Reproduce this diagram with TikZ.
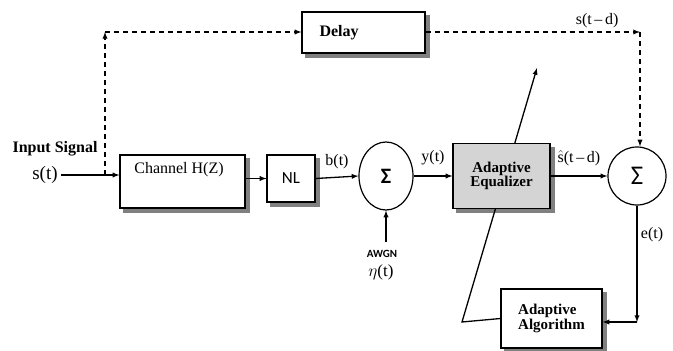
\documentclass[tikz,border=0pt]{standalone}
\usepackage{amssymb,amsmath}
\usepackage{fontspec}
\setmainfont{Liberation Serif}
\newfontfamily\calfont{Carlito}
\usetikzlibrary{%
  arrows,%
  calc,%
  backgrounds,%
  shapes.geometric%
}
\tikzset{>=latex}
\tikzset{blockbox/.style = {draw, line width=1.2pt, fill=white},
        boxshadow/.style = {fill=black!50},
        sumnode/.style = {draw, line width=1.2pt, ellipse, fill=white,
          inner sep=0pt},
        wire/.style = {line width=1.3pt},
        dashline/.style = {line width=1.3pt, dash pattern=on 5pt off 4pt},
        sigtext/.style = {font=\fontsize{16}{18}\selectfont}}

\begin{document}
\begin{tikzpicture}[x=1pt,y=1pt]
        \useasboundingbox (0,0) rectangle (673,-351);
        % blocks
        \node[blockbox, minimum width=123pt, minimum height=41pt,
        text width=100pt, align=left] (delay) at (363.5,-32.5)
        {\hspace*{6pt}\fontsize{16}{18}\selectfont\bfseries Delay};
        \node[blockbox, minimum width=125pt, minimum height=53pt] (chan) at
        (182.5,-181.5) {};
        \node[sigtext] (chanlabel) at (179,-170) {Channel H(Z)};
        \node[blockbox, minimum width=48pt, minimum height=47pt] (nl) at
        (291,-178.5) {\calfont\fontsize{17}{19}\selectfont NL};
        \node[sumnode, minimum width=54pt, minimum height=68pt] (sumA) at
        (386,-176) {\calfont\bfseries\fontsize{22}{24}\selectfont Σ};
        \node[blockbox, minimum width=101pt, minimum height=59pt,
        align=left] (alg) at (551.5,-318.5)
        {\fontsize{15}{22}\selectfont\bfseries Adaptive\\
          \fontsize{15}{22}\selectfont\bfseries Algorithm};
        % feedback line behind the equalizer
        \coordinate (fbA) at (462,-322);
        \coordinate (fbB) at (537,-68);
        \draw[wire,->] (alg.west) -- (fbA) -- (fbB);
        \node[blockbox, fill=black!17, minimum width=97pt, minimum height=65pt,
        align=center] (eq) at (501.5,-176)
        {\fontsize{15}{22}\selectfont\bfseries Adaptive\\
          \fontsize{15}{22}\selectfont\bfseries Equalizer};
        \node[sumnode, circle, minimum size=58pt] (sumB) at (637,-176)
        {\calfont\fontsize{27}{29}\selectfont Σ};
        % shadows
        \begin{scope}[on background layer]
          \foreach \b in {delay,chan,nl,eq,alg}
            \fill[boxshadow] ($(\b.south west)+(4,-4)$) rectangle
            ($(\b.north east)+(4,-4)$);
        \end{scope}
        % input
        \node[font=\fontsize{16}{18}\selectfont\bfseries] (insig) at (55,-149)
        {Input Signal};
        \node[font=\fontsize{19}{21}\selectfont] (sig) at (45,-175) {s(t)};
        \coordinate (split) at (105,-175);
        \coordinate (cornerL) at (105,-32);
        \coordinate (cornerR) at (640,-32);
        \draw[wire,->] (sig.east) -- (chan.west|-sig.east);
        \draw[dashline,->] (split) -- (cornerL);
        \draw[dashline,->] (cornerL) -- (delay.west|-cornerL);
        \draw[dashline,->] (delay.east|-cornerR) -- (cornerR)
        node[pos=0.8, above, sigtext] {s(t\,--\,d)};
        \draw[dashline,->] (cornerR) -- (sumB.north-|cornerR);
        % main path
        \draw[wire,->] (chan.east|-nl.west) -- (nl.west);
        \draw[wire,->] (nl.east) -- (sumA.west) node[midway, above=4pt,
        sigtext] {b(t)};
        \draw[wire,->] (sumA.east) -- (eq.west) node[midway, above=7pt,
        sigtext] {y(t)};
        \draw[wire,->] (eq.east) -- (sumB.west) node[midway, above=6pt,
        sigtext] {$\hat{\text{s}}$(t\,--\,d)};
        % noise
        \coordinate (noise) at (386,-242);
        \draw[wire,->] (noise) -- (sumA.south);
        \node[font=\calfont\bfseries\fontsize{11}{13}\selectfont] (awgn) at
        (382,-254) {AWGN};
        \node[font=\fontsize{17}{19}\selectfont] (eta) at (381,-272)
        {$\eta$(t)};
        % error path
        \coordinate (errC) at (637,-322);
        \draw[wire,->] (sumB.south) -- (errC) node[pos=0.25, right,
        sigtext] {e(t)};
        \draw[wire,->] (errC) -- (alg.east|-errC);
\end{tikzpicture}
\end{document}
